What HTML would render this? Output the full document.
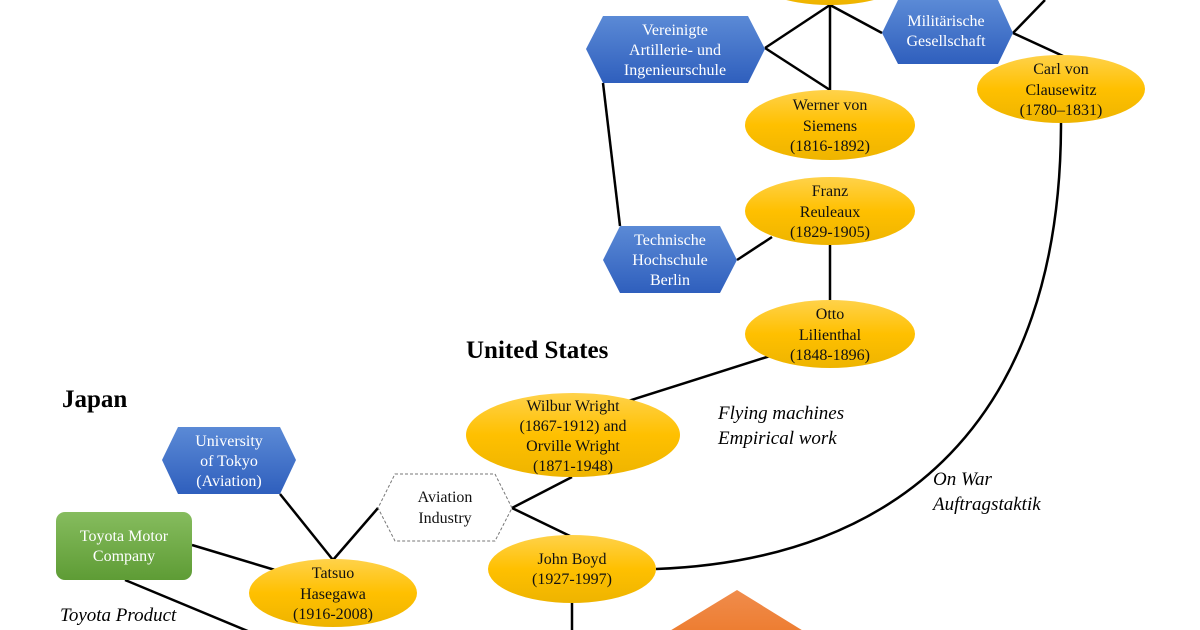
<!DOCTYPE html>
<html><head><meta charset="utf-8"><style>
html,body{margin:0;padding:0;background:#fff;}
svg{display:block;}
text{font-family:"Liberation Serif",serif;font-size:16px;}
.w{fill:#fff;}
.k{fill:#111;}
</style></head><body>
<svg width="1200" height="630" viewBox="0 0 1200 630" xmlns="http://www.w3.org/2000/svg">
<defs>
<linearGradient id="g" x1="0" y1="0" x2="0" y2="1"><stop offset="0" stop-color="#ffd24a"/><stop offset="0.5" stop-color="#ffc000"/><stop offset="1" stop-color="#eeb400"/></linearGradient>
<linearGradient id="b" x1="0" y1="0" x2="0" y2="1"><stop offset="0" stop-color="#5b8ad6"/><stop offset="1" stop-color="#2f5fbd"/></linearGradient>
<linearGradient id="gr" x1="0" y1="0" x2="0" y2="1"><stop offset="0" stop-color="#86bc5e"/><stop offset="1" stop-color="#5e9c35"/></linearGradient>
<linearGradient id="o" x1="0" y1="0" x2="0" y2="1"><stop offset="0" stop-color="#f08c4c"/><stop offset="1" stop-color="#ed7d31"/></linearGradient>
</defs>
<g stroke="#000" stroke-width="2.5" fill="none">
<line x1="830" y1="5" x2="765" y2="48"/>
<line x1="830" y1="5" x2="830" y2="90"/>
<line x1="830" y1="5" x2="882" y2="33"/>
<line x1="765" y1="48" x2="830" y2="90"/>
<line x1="1013" y1="33" x2="1045" y2="0"/>
<line x1="1013" y1="33" x2="1063" y2="56"/>
<line x1="603" y1="83" x2="620" y2="226"/>
<line x1="737" y1="260" x2="772" y2="237"/>
<line x1="830" y1="245" x2="830" y2="300"/>
<line x1="770" y1="356" x2="622" y2="403"/>
<line x1="572" y1="477" x2="512" y2="508"/>
<line x1="512" y1="508" x2="572" y2="537"/>
<line x1="378" y1="508" x2="333" y2="560"/>
<line x1="280" y1="494" x2="333" y2="560"/>
<line x1="192" y1="545" x2="275" y2="570"/>
<line x1="125" y1="580" x2="250" y2="632"/>
<line x1="572" y1="603" x2="572" y2="632"/>
<path d="M656,569 C900,560 1061,420 1061,123"/>
</g>
<!-- orange -->
<polygon points="737,590 805,632 668,632" fill="url(#o)"/>
<!-- ellipses -->
<g fill="url(#g)">
<ellipse cx="830" cy="-30" rx="85" ry="35"/>
<ellipse cx="830" cy="125" rx="85" ry="35"/>
<ellipse cx="1061" cy="89" rx="84" ry="34"/>
<ellipse cx="830" cy="211" rx="85" ry="34"/>
<ellipse cx="830" cy="334" rx="85" ry="34"/>
<ellipse cx="573" cy="435" rx="107" ry="42"/>
<ellipse cx="572" cy="569" rx="84" ry="34"/>
<ellipse cx="333" cy="593" rx="84" ry="34"/>
</g>
<!-- hexagons -->
<g fill="url(#b)">
<polygon points="603,16 748,16 765,49 748,83 603,83 586,49"/>
<polygon points="898,0 998,0 1013,33 998,64 898,64 882,33"/>
<polygon points="620,226 720,226 737,260 720,293 620,293 603,260"/>
<polygon points="178,427 280,427 296,460 280,494 178,494 162,460"/>
</g>
<polygon points="395,474 495,474 512,508 495,541 395,541 378,508" fill="#fff" stroke="#777" stroke-dasharray="3,2" stroke-width="1"/>
<rect x="56" y="512" width="136" height="68" rx="9" fill="url(#gr)"/>
<g text-anchor="middle">
<text class="w" x="675" y="35">Vereinigte</text>
<text class="w" x="675" y="55">Artillerie- und</text>
<text class="w" x="675" y="75">Ingenieurschule</text>
<text class="w" x="946" y="26">Militärische</text>
<text class="w" x="946" y="46">Gesellschaft</text>
<text class="w" x="670" y="245">Technische</text>
<text class="w" x="670" y="265">Hochschule</text>
<text class="w" x="670" y="285">Berlin</text>
<text class="w" x="229" y="446">University</text>
<text class="w" x="229" y="466">of Tokyo</text>
<text class="w" x="229" y="486">(Aviation)</text>
<text class="w" x="124" y="541">Toyota Motor</text>
<text class="w" x="124" y="561">Company</text>
<text class="k" x="445" y="502">Aviation</text>
<text class="k" x="445" y="523">Industry</text>
<text class="k" x="830" y="110">Werner von</text>
<text class="k" x="830" y="131">Siemens</text>
<text class="k" x="830" y="151">(1816-1892)</text>
<text class="k" x="1061" y="74">Carl von</text>
<text class="k" x="1061" y="95">Clausewitz</text>
<text class="k" x="1061" y="115">(1780–1831)</text>
<text class="k" x="830" y="196">Franz</text>
<text class="k" x="830" y="217">Reuleaux</text>
<text class="k" x="830" y="237">(1829-1905)</text>
<text class="k" x="830" y="319">Otto</text>
<text class="k" x="830" y="340">Lilienthal</text>
<text class="k" x="830" y="360">(1848-1896)</text>
<text class="k" x="573" y="411">Wilbur Wright</text>
<text class="k" x="573" y="431">(1867-1912) and</text>
<text class="k" x="573" y="451">Orville Wright</text>
<text class="k" x="573" y="471">(1871-1948)</text>
<text class="k" x="572" y="564">John Boyd</text>
<text class="k" x="572" y="584">(1927-1997)</text>
<text class="k" x="333" y="578">Tatsuo</text>
<text class="k" x="333" y="599">Hasegawa</text>
<text class="k" x="333" y="619">(1916-2008)</text>
</g>
<text x="466" y="358" style="font-size:25px;font-weight:bold">United States</text>
<text x="62" y="407" style="font-size:25px;font-weight:bold">Japan</text>
<g style="font-style:italic;font-size:19px">
<text x="718" y="419" style="font-style:italic;font-size:19px">Flying machines</text>
<text x="718" y="444" style="font-style:italic;font-size:19px">Empirical work</text>
<text x="933" y="485" style="font-style:italic;font-size:19px">On War</text>
<text x="933" y="510" style="font-style:italic;font-size:19px">Auftragstaktik</text>
<text x="60" y="621" style="font-style:italic;font-size:19px">Toyota Product</text>
</g>
</svg>
</body></html>
